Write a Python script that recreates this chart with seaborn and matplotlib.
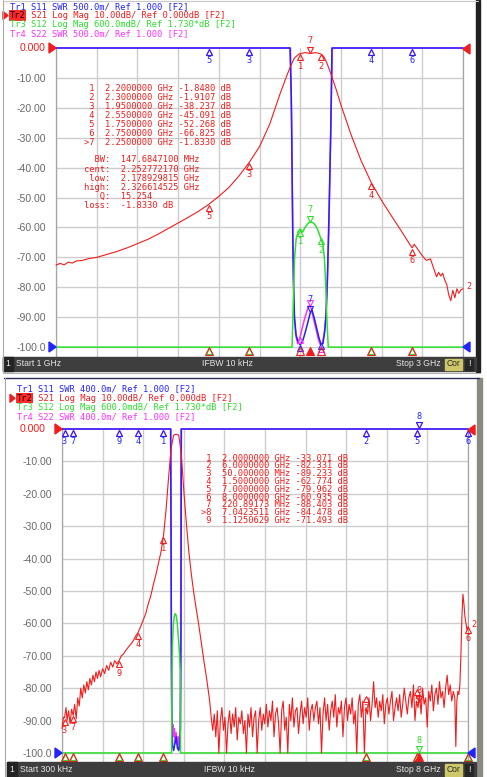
import numpy as np
import matplotlib
matplotlib.use("Agg")
import matplotlib.pyplot as plt
from matplotlib.patches import Rectangle, Polygon
from matplotlib.transforms import offset_copy
import seaborn as sns

sns.set_theme(style="white")
plt.rcParams["font.family"] = ["Liberation Sans", "DejaVu Sans"]
MONO = ["DejaVu Sans Mono"]

W, H = 487, 777
RED = "#f21c1c"
BLUE = "#2323ff"
GREEN = "#2de02d"
MAG = "#ff30ff"
GRID = "#cdcdcd"
LABEL = "#6a6a6a"

# ---------------- window 1 : 1 GHz - 3 GHz ----------------
top_s21_f = [1.00, 1.02, 1.04, 1.06, 1.08, 1.10, 1.13, 1.16, 1.20, 1.25, 1.30, 1.35, 1.40, 1.45,
             1.50, 1.55, 1.60, 1.65, 1.70, 1.75, 1.80, 1.85, 1.90, 1.95, 2.00, 2.05, 2.10, 2.13,
             2.15, 2.17, 2.19, 2.20, 2.225, 2.25, 2.275, 2.30, 2.315, 2.33, 2.35, 2.375, 2.40,
             2.45, 2.50, 2.55, 2.60, 2.65, 2.70, 2.74, 2.75, 2.76, 2.78, 2.80, 2.82, 2.84, 2.86,
             2.87, 2.88, 2.89, 2.90, 2.91, 2.92, 2.93, 2.94, 2.95, 2.96, 2.97, 2.98, 2.99, 3.00]
top_s21_db = [-72.6, -72.0, -72.5, -71.6, -71.9, -71.2, -71.0, -70.4, -70.0, -69.0, -68.0, -66.8,
              -65.4, -64.0, -62.3, -60.4, -58.5, -56.6, -54.6, -52.3, -49.6, -46.6, -42.7, -38.2,
              -33.0, -25.5, -15.5, -10.0, -6.5, -3.5, -2.2, -1.85, -1.55, -1.83, -1.55, -1.91,
              -2.8, -4.8, -8.5, -13.5, -19.0, -29.0, -37.8, -45.1, -51.0, -56.3, -61.5, -65.8,
              -66.8, -65.6, -67.5, -69.5, -71.0, -70.5, -74.5, -76.5, -75.0, -76.2, -75.3, -77.5,
              -79.0, -82.5, -84.5, -81.0, -83.5, -80.5, -82.0, -80.8, -80.5]

top_s11_f = [1.00, 2.150, 2.156, 2.160, 2.163, 2.167, 2.172, 2.180, 2.190, 2.200, 2.212, 2.225,
             2.238, 2.250, 2.258, 2.268, 2.280, 2.292, 2.302, 2.312, 2.320, 2.327, 2.334, 2.342,
             2.350, 2.356, 3.00]
top_s11_swr = [6.0, 6.0, 5.2, 4.0, 3.0, 2.1, 1.5, 1.2, 1.08, 1.04, 1.10, 1.25, 1.42, 1.58, 1.62,
               1.50, 1.33, 1.16, 1.05, 1.06, 1.25, 1.55, 2.2, 3.3, 4.6, 6.0, 6.0]

top_s22_f = [1.00, 2.152, 2.158, 2.162, 2.166, 2.171, 2.178, 2.188, 2.198, 2.210, 2.222, 2.235,
             2.245, 2.255, 2.265, 2.278, 2.290, 2.300, 2.310, 2.318, 2.326, 2.333, 2.341, 2.349,
             2.358, 3.00]
top_s22_swr = [6.0, 6.0, 4.8, 3.4, 2.2, 1.5, 1.2, 1.06, 1.15, 1.32, 1.48, 1.62, 1.70, 1.64, 1.48,
               1.30, 1.12, 1.03, 1.08, 1.22, 1.48, 2.0, 3.0, 4.4, 6.0, 6.0]

top_s12_f = [1.00, 2.160, 2.166, 2.172, 2.180, 2.190, 2.200, 2.212, 2.225, 2.240, 2.255, 2.268,
             2.280, 2.292, 2.302, 2.312, 2.320, 2.326, 2.332, 2.338, 3.00]
top_s12_db = [-4.27, -4.27, -3.4, -2.5, -2.1, -1.95, -1.90, -1.96, -1.86, -1.78, -1.76, -1.79,
              -1.86, -1.98, -2.10, -2.20, -2.55, -3.1, -3.8, -4.27, -4.27]

top_mk_lbl = ["1", "2", "3", "4", "5", "6", "7"]
top_mk_f = [2.2, 2.3, 1.95, 2.55, 1.75, 2.75, 2.25]
top_mk_db = [-1.848, -1.9107, -38.237, -45.091, -52.268, -66.825, -1.833]
top_active = 6
top_stats = [("BW:", "147.6847100 MHz"), ("cent:", "2.252772170 GHz"), ("low:", "2.178929815 GHz"),
             ("high:", "2.326614525 GHz"), ("Q:", "15.254"), ("loss:", "-1.8330 dB")]
top_head = [("Tr1 S11 SWR 500.0m/ Ref 1.000 [F2]", BLUE),
            ("Tr2 S21 Log Mag 10.00dB/ Ref 0.000dB [F2]", RED),
            ("Tr3 S12 Log Mag 600.0mdB/ Ref 1.730*dB [F2]", GREEN),
            ("Tr4 S22 SWR 500.0m/ Ref 1.000 [F2]", MAG)]

# ---------------- window 2 : 300 kHz - 8 GHz ----------------
bot_s21_f = [0.0003, 0.03, 0.05, 0.08, 0.10, 0.13, 0.16, 0.19, 0.22, 0.25, 0.28, 0.31, 0.34, 0.37,
             0.40, 0.43, 0.46, 0.49, 0.52, 0.55, 0.58, 0.61, 0.64, 0.67, 0.70, 0.73, 0.76, 0.80,
             0.84, 0.88, 0.92, 0.96, 1.00, 1.04, 1.08, 1.125, 1.17, 1.21, 1.25, 1.30, 1.35, 1.40,
             1.45, 1.50, 1.55, 1.60, 1.65, 1.70, 1.75, 1.80, 1.85, 1.90, 1.95, 2.00, 2.05, 2.10,
             2.15, 2.20, 2.25, 2.30, 2.35, 2.40, 2.45, 2.50, 2.55, 2.60, 2.65, 2.70, 2.75, 2.80,
             2.85, 2.88, 2.91, 2.94]
bot_s21_db = [-92.5, -89.0, -89.2, -86.0, -90.0, -87.0, -91.0, -86.5, -88.4, -85.0, -89.5, -83.0,
              -85.5, -80.0, -83.0, -79.0, -81.5, -78.0, -80.5, -77.0, -79.0, -76.0, -78.0, -75.0,
              -77.0, -74.5, -76.5, -74.0, -75.5, -73.0, -74.5, -72.0, -73.5, -71.5, -72.5, -71.5,
              -70.0, -69.5, -68.5, -67.5, -66.5, -65.5, -64.0, -62.8, -61.0, -59.0, -57.0, -54.0,
              -51.5, -48.0, -45.0, -41.5, -38.0, -33.0, -25.0, -15.0, -6.0, -1.9, -1.6, -1.9,
              -7.5, -19.0, -29.0, -38.0, -45.0, -51.0, -56.0, -61.0, -66.5, -72.0, -77.0, -80.5,
              -84.0, -89.0]
# noise floor, swept 2.97 .. 7.74 GHz
noise_start, noise_stop = 2.97, 7.74
noise_db = [-93, -88, -95, -87, -100, -90, -86, -93, -89, -100, -91, -87, -94, -88, -92, -86, -96,
            -89, -91, -87, -94, -90, -100, -88, -92, -86, -95, -89, -87, -100, -90, -86, -93, -88,
            -91,
            -85, -92, -87, -90, -84, -95, -88, -86, -91, -100, -87, -84, -93, -89, -100, -85, -90,
            -83, -92, -87, -86, -94, -88, -84, -91, -86, -89, -83, -93, -87, -85, -90, -86,
            -84, -91, -86, -100, -88, -83, -90, -85, -93, -87, -84, -89, -82, -92, -86, -88, -84,
            -95, -86, -83, -90, -85, -88, -83, -91, -87, -100, -85, -82, -89, -84, -100, -86,
            -88, -83, -90, -85, -78, -86, -83, -89, -84, -87, -82, -91, -85, -83, -88, -84, -81,
            -90, -86, -83, -87, -82, -89, -85, -80, -84, -88, -83, -81, -86, -79, -90, -84,
            -86, -82, -88, -80, -85, -83, -92, -81, -84, -79, -87, -82, -80, -85, -78, -83, -81,
            -86, -80, -76, -82, -79, -84, -81, -83]
tail_f = [7.76, 7.78, 7.80, 7.82, 7.84, 7.86, 7.88, 7.90, 7.92, 7.94, 7.96, 7.98, 8.00]
tail_db = [-98, -84, -81, -82, -79, -70, -58, -51, -54, -58, -60, -62, -61]

bot_s11_f = [0.0003, 2.140, 2.150, 2.158, 2.166, 2.180, 2.200, 2.225, 2.250, 2.275, 2.300, 2.318,
             2.335, 2.345, 2.352, 8.0]
bot_s11_swr = [5.0, 5.0, 3.5, 2.0, 1.3, 1.08, 1.03, 1.12, 1.2, 1.06, 1.03, 1.1, 1.3, 2.5, 5.0, 5.0]

bot_s22_f = [0.0003, 2.145, 2.152, 2.160, 2.170, 2.185, 2.200, 2.215, 2.230, 2.250, 2.270, 2.290,
             2.310, 2.325, 2.338, 2.346, 8.0]
bot_s22_swr = [5.0, 5.0, 3.0, 1.6, 1.3, 1.35, 1.2, 1.3, 1.12, 1.25, 1.1, 1.2, 1.05, 1.2, 2.2, 5.0,
               5.0]

bot_s12_f = [0.0003, 2.160, 2.168, 2.176, 2.190, 2.210, 2.230, 2.250, 2.270, 2.290, 2.310, 2.330,
             2.336, 8.0]
bot_s12_db = [-4.27, -4.27, -2.8, -2.3, -1.95, -1.75, -1.69, -1.72, -1.85, -2.1, -2.35, -2.75,
              -4.27, -4.27]

bot_mk_lbl = ["1", "2", "3", "4", "5", "6", "7", "8", "9"]
bot_mk_f = [2.0, 6.0, 0.05, 1.5, 7.0, 8.0, 0.22089173, 7.0423511, 1.1250629]
bot_mk_db = [-33.071, -82.331, -89.233, -62.774, -79.962, -60.935, -88.403, -84.478, -71.493]
bot_active = 7
bot_head = [("Tr1 S11 SWR 400.0m/ Ref 1.000 [F2]", BLUE),
            ("Tr2 S21 Log Mag 10.00dB/ Ref 0.000dB [F2]", RED),
            ("Tr3 S12 Log Mag 600.0mdB/ Ref 1.730*dB [F2]", GREEN),
            ("Tr4 S22 SWR 400.0m/ Ref 1.000 [F2]", MAG)]

S12_REF, S12_DIV = 1.73, 0.6

fig = plt.figure(figsize=(W / 100, H / 100), dpi=100)
fig.patch.set_facecolor("white")


def px_box(l, t, r, b):
    return [l / W, 1 - b / H, (r - l) / W, (b - t) / H]


def mk(ax, f, v, lbl, color, active=False, show_lbl=True, ms=5.0):
    dy = 2.6 if active else -2.6
    tr = offset_copy(ax.transData, fig=fig, x=0, y=dy, units="points")
    ax.plot([f], [v], marker="v" if active else "^", ms=ms, mfc="none", mec=color, mew=0.8,
            transform=tr, clip_on=False, zorder=6)
    if show_lbl:
        ax.annotate(lbl, (f, v), xytext=(0, 9.0 if active else -9.0), textcoords="offset points",
                    ha="center", va="center", fontsize=6.2, color=color, family=MONO,
                    annotation_clip=False, zorder=6)


def trace(ax, f, v, color, lw):
    sns.lineplot(x=f, y=v, ax=ax, color=color, linewidth=lw, estimator=None, sort=False,
                 legend=False)
    ax.lines[-1].set_clip_on(False)


def window(rect, f0, f1, ylo, swr_top, s21, s11, s22, s12, mk_f, mk_db, mk_lbl, active):
    ax = fig.add_axes(px_box(*rect))
    ax.set_xlim(f0, f1)
    ax.set_ylim(ylo, 0)
    ax.set_xticks(np.linspace(f0, f1, 11))
    ax.set_xticklabels([])
    yt = [-10, -20, -30, -40, -50, -60, -70, -80, -90, -100]
    ax.set_yticks(yt)
    ax.set_yticklabels([f"{v:.2f}" if v > -100 else "-100.0" for v in yt])
    ax.tick_params(length=0, pad=7.2, labelsize=7.6, labelcolor=LABEL)
    ax.grid(True, color=GRID, lw=1.0)
    for s in ["left", "right"]:
        ax.spines[s].set_color("#a5a5a5")
        ax.spines[s].set_linewidth(0.9)
    ax.spines["top"].set_visible(False)
    ax.spines["bottom"].set_visible(False)

    k = (swr_top - 1) / 100
    ax_sw = ax.twinx()
    ax_g = ax.twinx()
    ax_r = ax.twinx()
    for a in (ax_sw, ax_g, ax_r):
        a.axis("off")

    # SWR traces (Tr4 under Tr1)
    trace(ax_sw, s22[0], s22[1], MAG, 1.1)
    trace(ax_sw, s11[0], s11[1], BLUE, 1.1)
    ax_sw.set_ylim(1 + (ylo + 100) * k, 1 + 100 * k)
    trace(ax_g, s12[0], s12[1], GREEN, 1.1)
    ax_g.set_ylim(S12_REF + ylo * S12_DIV / 10, S12_REF)
    trace(ax_r, s21[0], s21[1], RED, 0.8)
    ax_r.set_ylim(ylo, 0)
    for a in (ax_sw, ax_g, ax_r):
        a.set_xlim(f0, f1)

    for i, (f, v, lbl) in enumerate(zip(mk_f, mk_db, mk_lbl)):
        act = i == active
        vm = np.interp(f, s22[0], s22[1])
        vb = np.interp(f, s11[0], s11[1])
        vg = np.interp(f, s12[0], s12[1])
        dm, db_, dg = (vm - 1) / k - 100, (vb - 1) / k - 100, (vg - S12_REF) / S12_DIV * 10
        # labels on the bottom line fall under the status bar; Tr1 covers Tr4 where they meet
        mk(ax_sw, f, vm, lbl, MAG, act, dm > -97 and abs(dm - db_) > 4)
        mk(ax_sw, f, vb, lbl, BLUE, act, db_ > -97)
        mk(ax_g, f, vg, lbl, GREEN, act, dg > -97 or act)
        mk(ax_r, f, v, lbl, RED, act)
        tr = offset_copy(ax_r.transData, fig=fig, x=0, y=-3.0, units="points")
        ax_r.plot([f], [-100], marker="^", ms=5.6, mfc=RED if act else "none", mec=RED, mew=0.8,
                  transform=tr, clip_on=False, zorder=5)
    ax_r.annotate("2", (s21[0][-1], s21[1][-1]), xytext=(4.5, 1.5), textcoords="offset points",
                  ha="center", va="center", fontsize=6.2, color=RED, family=MONO,
                  annotation_clip=False)
    return ax


def fmt9(x):
    return f"{x:.7f}"[:9]


def fmt7(x):
    return f"{x:.4f}"[:7]


# ---------- window 1 ----------
window((56, 48, 463, 357), 1.0, 3.0, -103.3, 6.0,
       (top_s21_f, top_s21_db), (top_s11_f, top_s11_swr), (top_s22_f, top_s22_swr),
       (top_s12_f, top_s12_db), top_mk_f, top_mk_db, top_mk_lbl, top_active)

# ---------- window 2 ----------
noise_f = np.linspace(noise_start, noise_stop, len(noise_db))
b_f = list(bot_s21_f) + list(noise_f) + tail_f
b_db = list(bot_s21_db) + list(noise_db) + tail_db
window((62, 429, 468, 762), 0.0003, 8.0, -102.8, 5.0,
       (b_f, b_db), (bot_s11_f, bot_s11_swr), (bot_s22_f, bot_s22_swr),
       (bot_s12_f, bot_s12_db), bot_mk_f, bot_mk_db, bot_mk_lbl, bot_active)

# ---------- screen chrome in pixel coordinates ----------
ov = fig.add_axes([0, 0, 1, 1], zorder=10)
ov.set_xlim(0, W)
ov.set_ylim(H, 0)
ov.axis("off")
ov.patch.set_alpha(0)

CW = 5.28  # monospace character width in px
HFS = 6.28


def header(x0, ys, lines):
    for (txt, col), y in zip(lines, ys):
        if txt.startswith("Tr2"):
            ov.text(x0, y, "Tr2", family=MONO, fontsize=HFS, color="#2a0000", va="center",
                    bbox=dict(boxstyle="square,pad=0.08", fc="#ff2a2a", ec="none"))
            ov.text(x0 + 3 * CW, y, txt[3:], family=MONO, fontsize=HFS, color=col, va="center")
            ov.add_patch(Polygon([[x0 - 7, y - 4], [x0 - 7, y + 4], [x0 - 2, y]], color=RED))
        else:
            ov.text(x0, y, txt, family=MONO, fontsize=HFS, color=col, va="center")


def table(x0, ys, mk_f, mk_db, mk_lbl, active, stats=None, sy=None):
    for i, (f, v, lbl) in enumerate(zip(mk_f, mk_db, mk_lbl)):
        unit, val = ("GHz", f) if f >= 1 else ("MHz", f * 1000)
        tag = (">" if i == active else "") + lbl
        s = f"{tag:>2}  {fmt9(val)} {unit} {fmt7(v)} dB"
        ov.text(x0, ys[i], s, family=MONO, fontsize=HFS, color=RED, va="center")
    if stats:
        for (name, val), y in zip(stats, sy):
            ov.text(x0, y, f"{name:>5}  {val}", family=MONO, fontsize=HFS, color=RED, va="center")


def status(x0, x1, y0, y1, start, stop):
    yc = (y0 + y1) / 2
    ov.add_patch(Rectangle((x0, y0), x1 - x0, y1 - y0, color="#3e3e3e"))
    ov.add_patch(Rectangle((x0, y0), 10, y1 - y0, color="#232323"))
    ov.text(x0 + 5, yc, "1", color="#e6e6e6", fontsize=6.2, ha="center", va="center")
    ov.text(x0 + 13, yc, start, color="#e6e6e6", fontsize=6.2, va="center")
    ov.text((x0 + x1) / 2 - 12, yc, "IFBW 10 kHz", color="#e6e6e6", fontsize=6.2,
            ha="center", va="center")
    ov.text(x1 - 35, yc, stop, color="#e6e6e6", fontsize=6.2, ha="right", va="center")
    ov.add_patch(Rectangle((x1 - 31, y0 + 1.5), 17, y1 - y0 - 3, color="#cfc86a"))
    ov.text(x1 - 22.5, yc, "Cor", color="#2a2a2a", fontsize=6.2, ha="center", va="center")
    ov.add_patch(Rectangle((x1 - 11, y0 + 1.5), 8, y1 - y0 - 3, color="#262626"))
    ov.text(x1 - 7, yc, "!", color="#e6e6e6", fontsize=6.2, ha="center", va="center")


def tri(x, y, color, right=True):
    if right:
        pts = [[x - 7, y - 5], [x - 7, y + 5], [x, y]]
    else:
        pts = [[x + 7, y - 5], [x + 7, y + 5], [x, y]]
    ov.add_patch(Polygon(pts, color=color))


# frames
ov.plot([2.5, 2.5], [0, 372], color="#a8a8a8", lw=0.8)
ov.plot([2.5, 478], [0.5, 0.5], color="#c8c8c8", lw=0.8)
ov.add_patch(Rectangle((476, 0), 4, 372, color="#202020"))
ov.plot([3, 480], [373, 373], color="#b0b0b0", lw=0.8)
ov.plot([4, 479], [378, 378], color="#2c2c5a", lw=1.0)
ov.plot([5, 5], [378, 777], color="#a8a8a8", lw=0.8)
ov.add_patch(Rectangle((477, 378), 5, 399, color="#8a8a80"))

header(10, [6.5, 15.5, 24.5, 33.5], top_head)
header(17, [389, 398.3, 407.3, 416.3], bot_head)
table(84, [88.3, 97.3, 106.3, 115.3, 124.3, 133.3, 142.3], top_mk_f, top_mk_db, top_mk_lbl,
      top_active, top_stats, [160, 169.3, 178.3, 187.3, 196.7, 205.7])
table(200.7, [458.3, 466.0, 473.7, 481.7, 489.3, 497.0, 504.7, 512.7, 520.3], bot_mk_f,
      bot_mk_db, bot_mk_lbl, bot_active)

ov.text(45, 48, "0.000", color=RED, fontsize=7.6, ha="right", va="center")
ov.text(46, 429, "0.000", color=RED, fontsize=7.6, ha="right", va="center")
tri(56, 48, RED)
tri(56, 347, BLUE)
tri(463, 49, RED, right=False)
tri(463, 347, BLUE, right=False)
tri(62, 429, RED)
tri(62, 753, BLUE)
tri(468, 430, RED, right=False)
tri(468, 753, BLUE, right=False)

status(3, 476, 357, 371, "Start 1 GHz", "Stop 3 GHz")
status(7, 476, 762, 777, "Start 300 kHz", "Stop 8 GHz")

fig.savefig("out.png", dpi=100)
